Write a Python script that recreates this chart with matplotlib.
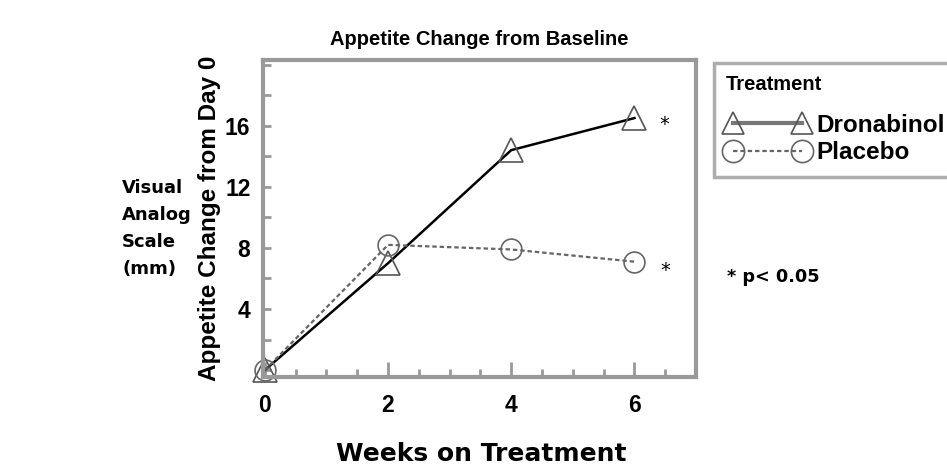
import matplotlib.pyplot as plt
from matplotlib.ticker import MultipleLocator, FixedLocator

weeks = [0, 2, 4, 6]
dronabinol = [0.0, 7.0, 14.4, 16.5]
placebo = [0.0, 8.2, 7.9, 7.1]
x_ticks = [0, 2, 4, 6]
y_ticks = [4, 8, 12, 16]

narrow = ["Liberation Sans", "DejaVu Sans"]
gray = "#999999"

fig = plt.figure(figsize=(9.47, 4.67), dpi=100)
ax = fig.add_axes([0.2777, 0.1927, 0.4573, 0.6788])

ax.plot(weeks, dronabinol, color="black", lw=1.8, marker="^", ms=17,
        mfc="none", mec="#555555", mew=1.2, label="Dronabinol", clip_on=False)
ax.plot(weeks, placebo, color="#666666", lw=1.6, ls=(0, (2, 1.3)), marker="o",
        ms=15, mfc="none", mec="#666666", mew=1.2, label="Placebo", clip_on=False)

ax.set_xlim(-0.03, 7.0)
ax.set_ylim(-0.45, 20.3)
ax.xaxis.set_major_locator(FixedLocator(x_ticks))
ax.xaxis.set_minor_locator(MultipleLocator(0.5))
ax.yaxis.set_major_locator(FixedLocator(y_ticks))
ax.yaxis.set_minor_locator(MultipleLocator(2))
ax.tick_params(axis="both", which="both", direction="in", color=gray, width=2)
ax.tick_params(axis="x", which="major", length=11, pad=12)
ax.tick_params(axis="x", which="minor", length=6)
ax.tick_params(axis="y", which="both", length=6, pad=9)
for lab in ax.get_xticklabels() + ax.get_yticklabels():
    lab.set_fontweight("bold")
    lab.set_fontsize(16.5)
    lab.set_family(narrow)
for s in ax.spines.values():
    s.set_color(gray)
    s.set_linewidth(3)

ax.set_ylabel("Appetite Change from Day 0", fontsize=17.5, fontweight="bold",
              family=narrow, labelpad=3)
ax.set_title("Appetite Change from Baseline", fontsize=14.5, fontweight="bold",
             family=narrow, pad=11)

ax.text(6.4, dronabinol[-1] - 0.4, "*", fontsize=14, va="center")
ax.text(6.42, placebo[-1] - 0.6, "*", fontsize=14, va="center")

fig.text(0.129, 0.51, "Visual\nAnalog\nScale\n(mm)", fontsize=13,
         fontweight="bold", ha="left", va="center", linespacing=1.65)
fig.text(0.508, 0.028, "Weeks on Treatment", fontsize=18, fontweight="bold",
         ha="center", va="center")
fig.text(0.768, 0.407, "* p< 0.05", fontsize=12.7, fontweight="bold",
         ha="left", va="center")

# legend frame runs past the right edge, like the reference
leg = fig.legend(loc="upper left", bbox_to_anchor=(0.754, 0.0, 0.3, 0.865),
                 mode="expand", title="Treatment\n", alignment="left", numpoints=2,
                 frameon=True, fancybox=False, edgecolor=gray,
                 handlelength=3.4, handletextpad=0.3, borderpad=0.5,
                 borderaxespad=0, labelspacing=0.2,
                 prop={"family": narrow, "weight": "bold", "size": 17.5})
title = leg.get_title()
title.set_fontweight("bold")
title.set_family(narrow)
title.set_fontsize(14.5)
title.set_linespacing(0.7)
leg.get_frame().set_linewidth(2.5)
for h in leg.legend_handles:
    h.set_markersize(16)
leg.legend_handles[0].set_linewidth(3)
leg.legend_handles[0].set_color("#777777")

fig.savefig("out.png", dpi=100)
